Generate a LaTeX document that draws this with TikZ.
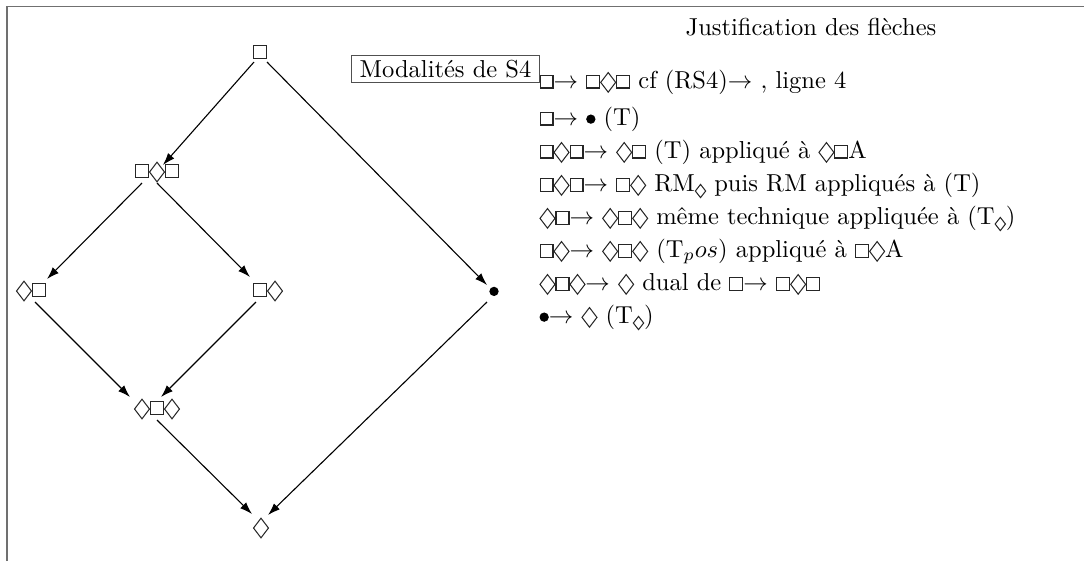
\documentclass[tikz,border=0pt]{standalone}
\usetikzlibrary{arrows.meta}
\definecolor{framegray}{HTML}{707070}
\definecolor{boxgray}{HTML}{505050}
\tikzset{
  sym/.style={inner sep=1pt, outer sep=0pt},
  arr/.style={-{Latex[length=5pt,width=3.4pt]}, line width=0.45pt},
  frameline/.style={draw=framegray, line width=0.6pt},
  titlebox/.style={draw=boxgray, line width=0.5pt, inner xsep=3.33pt, inner ysep=1.8pt},
  just/.style={anchor=base west, inner sep=0pt},
  symline/.style={draw=black!85, line width=0.42pt},
}
% custom modal symbols
\newcommand{\mbx}{\tikz[baseline=0pt]{\draw[symline] (0pt,0pt) rectangle (5.3pt,5.3pt);}}
\newcommand{\mdm}{\tikz[baseline=0pt]{\draw[symline] (0pt,2.3pt) -- (3.05pt,6.3pt) -- (6.1pt,2.3pt) -- (3.05pt,-1.7pt) -- cycle;}}
\newcommand{\msdm}{\tikz[baseline=2.4pt]{\draw[symline] (0pt,2.4pt) -- (2.1pt,5.1pt) -- (4.2pt,2.4pt) -- (2.1pt,-0.3pt) -- cycle;}}
\newcommand{\mbl}{\tikz[baseline=0pt]{\fill (2pt,2.4pt) circle (1.9pt);}}
\newcommand{\marr}{$\rightarrow$}
\begin{document}
\begin{tikzpicture}[x=0.408pt,y=-0.408pt]
\useasboundingbox (0,0) rectangle (1084,561);
% frame
\coordinate (fa) at (7,561);
\coordinate (fb) at (7,6.5);
\coordinate (fc) at (1084,6.5);
\draw[frameline] (fa) -- (fb) -- (fc);
% graph nodes
\node[sym] (b)   at (260,52)  {\mbx};
\node[sym] (bdb) at (157,172) {\mbx\mdm\mbx};
\node[sym] (db)  at (31,291)  {\mdm\mbx};
\node[sym] (bd)  at (268,291) {\mbx\mdm};
\node[sym] (dbd) at (157,409) {\mdm\mbx\mdm};
\node[sym] (d)   at (261,528) {\mdm};
\node[sym] (t)   at (494,292) {\mbl};
% edges (offsets in reference pixels, y downwards)
\draw[arr] ([shift={(-6,10)}]b.center)    -- ([shift={(6,-7)}]bdb.center);
\draw[arr] ([shift={(7,10)}]b.center)     -- ([shift={(-7,-7)}]t.center);
\draw[arr] ([shift={(-15,11)}]bdb.center) -- ([shift={(16,-12)}]db.center);
\draw[arr] ([shift={(0,11)}]bdb.center)   -- ([shift={(-18,-14)}]bd.center);
\draw[arr] ([shift={(4,11)}]db.center)    -- ([shift={(-27,-12)}]dbd.center);
\draw[arr] ([shift={(-12,11)}]bd.center)  -- ([shift={(4,-12)}]dbd.center);
\draw[arr] ([shift={(0,11)}]dbd.center)   -- ([shift={(-9,-14)}]d.center);
\draw[arr] ([shift={(-7,10)}]t.center)    -- ([shift={(7,-13)}]d.center);
% title and box
\node (title) at (811,27) {Justification des flèches};
\node[titlebox] (mod) at (445.5,69) {Modalités de S4};
% justification lines
\node[just] (l1) at (539,88)  {\mbx\marr{} \mbx\mdm\mbx{} cf (RS4)$\rightarrow$ , ligne 4};
\node[just] (l2) at (539,125) {\mbx\marr{} \mbl{} (T)};
\node[just] (l3) at (539,158) {\mbx\mdm\mbx\marr{} \mdm\mbx{} (T) appliqué à \mdm\mbx A};
\node[just] (l4) at (539,191) {\mbx\mdm\mbx\marr{} \mbx\mdm{} RM\msdm{} puis RM appliqués à (T)};
\node[just] (l5) at (539,224) {\mdm\mbx\marr{} \mdm\mbx\mdm{} même technique appliquée à (T\msdm)};
\node[just] (l6) at (539,257) {\mbx\mdm\marr{} \mdm\mbx\mdm{} (T$_pos$) appliqué à \mbx\mdm A};
\node[just] (l7) at (539,290) {\mdm\mbx\mdm\marr{} \mdm{} dual de \mbx\marr{} \mbx\mdm\mbx};
\node[just] (l8) at (539,323) {\mbl\marr{} \mdm{} (T\msdm)};
\end{tikzpicture}
\end{document}
